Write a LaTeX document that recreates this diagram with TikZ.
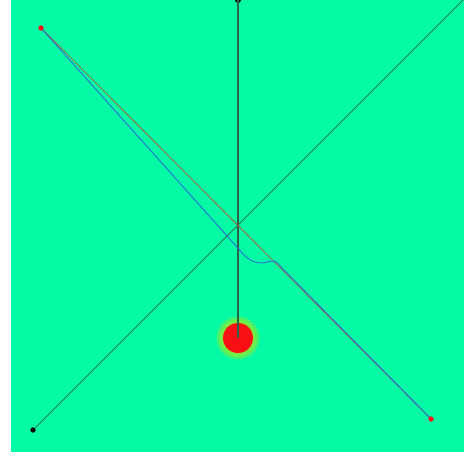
\documentclass[tikz,border=0pt]{standalone}
\usepackage{tikz}
\usetikzlibrary{calc}
\definecolor{bgMint}{RGB}{4,250,164}
\definecolor{lineDark}{RGB}{40,100,70}
\definecolor{lineOrange}{RGB}{160,100,60}
\definecolor{pathBlue}{RGB}{40,100,220}
\definecolor{bobRed}{RGB}{250,15,20}
\definecolor{haloYellow}{RGB}{170,235,30}
\tikzset{
  dotRed/.style={circle, fill=bobRed, inner sep=0pt, minimum size=5pt},
  dotBlack/.style={circle, fill=black, inner sep=0pt, minimum size=5pt},
  lineGray/.style={draw=lineDark, line width=0.7pt},
  lineRod/.style={draw=lineDark, line width=1.1pt},
  lineO/.style={draw=lineOrange, line width=0.8pt},
  lineB/.style={draw=pathBlue, line width=0.8pt},
  bob/.style={circle, fill=bobRed, inner sep=0pt, minimum size=30pt},
}
\begin{document}
\begin{tikzpicture}[x=1pt, y=-1pt]
    \useasboundingbox (0,0) rectangle (464,456);
    \fill[white] (0,0) rectangle (464,456);
    \fill[bgMint] (11,0) rectangle (464,452);
    % pendulum
    \node[dotBlack, minimum size=6pt] (pivot) at (238,0) {};
    \foreach \r in {22,21,...,15}
      \fill[haloYellow, opacity=0.18] (238,338) circle (\r);
    \node[bob] (ball) at (238,338) {};
    \draw[lineRod] (pivot.center) -- (ball.center);
    % diagonals
    \node[dotBlack] (bl) at (33,430) {};
    \coordinate (tr) at (468,-5);
    \node[dotRed] (tl) at (41,28) {};
    \node[dotRed] (br) at (431,419) {};
    \draw[lineGray] (bl.center) -- (tr);
    \draw[lineO] (tl.center) -- (br.center);
    \draw[lineB] (tl.center) -- (237,247) to[out=-50,in=180] (262,263)
        to[out=0,in=180] (272,261) to[out=0,in=135] (283,269) -- (br.center);
    \node[dotRed] at (tl) {};
    \node[dotRed] at (br) {};
    \node[dotBlack] at (bl) {};
  \end{tikzpicture}
\end{document}
